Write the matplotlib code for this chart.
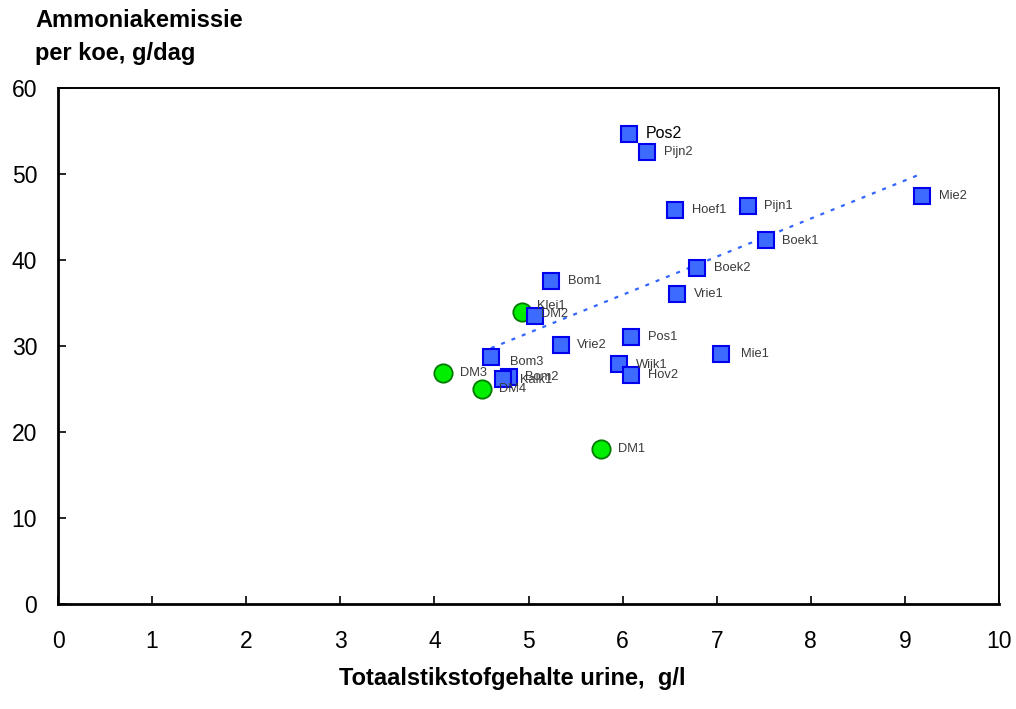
import numpy as np
import matplotlib
matplotlib.use('Agg')
import matplotlib.pyplot as plt

plt.rcParams['font.family'] = ['Liberation Sans', 'DejaVu Sans']

# bedrijven met vierkant symbool (stikstof g/l, emissie g/dag)
sq_names = ['Pos2', 'Pijn2', 'Hoef1', 'Pijn1', 'Mie2', 'Boek1', 'Boek2', 'Vrie1', 'Bom1',
            'DM2', 'Pos1', 'Vrie2', 'Mie1', 'Bom3', 'Wijk1', 'Hov2', 'Bom2', 'Kalk1']
sq_x = [6.07, 6.26, 6.56, 7.33, 9.18, 7.52, 6.79, 6.58, 5.24,
        5.07, 6.09, 5.34, 7.05, 4.60, 5.96, 6.09, 4.79, 4.73]
sq_y = [54.7, 52.6, 45.8, 46.3, 47.5, 42.3, 39.1, 36.1, 37.6,
        33.5, 31.1, 30.1, 29.1, 28.75, 27.9, 26.6, 26.4, 26.2]

# metingen met rond symbool
ci_names = ['Klei1', 'DM3', 'DM4', 'DM1']
ci_x = [4.93, 4.09, 4.51, 5.77]
ci_y = [33.9, 26.9, 25.0, 18.0]

# afwijkende labelposities (punten)
offsets = {'Klei1': (11, 4.5), 'DM2': (4, 1.5), 'Bom3': (14, -3.5), 'Kalk1': (12, -1),
           'Wijk1': (12, -0.7), 'Boek1': (12, -0.7), 'Mie1': (14, 0)}

fig = plt.figure(figsize=(10.16, 7.09), dpi=100)
ax = fig.add_axes([0.0571, 0.1485, 0.9262, 0.727])

# lineaire trend door de vierkanten
coef = np.polyfit(sq_x, sq_y, 1)
tx = np.array([min(sq_x), max(sq_x)])
ax.plot(tx, np.polyval(coef, tx), color='#3366ff', lw=1.6,
        linestyle=(0, (1.8, 3.2)), zorder=2)

ax.plot(ci_x, ci_y, 'o', ms=13.2, mfc='#00ee00', mec='#007a00', mew=1.3, zorder=3)
ax.plot(sq_x, sq_y, 's', ms=11, mfc='#3d6bff', mec='#0000ee', mew=1.5, zorder=4)

for names, xs, ys in [(sq_names, sq_x, sq_y), (ci_names, ci_x, ci_y)]:
    for n, x, y in zip(names, xs, ys):
        dx, dy = offsets.get(n, (12, 0))
        if n == 'Pos2':
            ax.annotate(n, (x, y), xytext=(dx, dy), textcoords='offset points',
                        va='center', ha='left', fontsize=11.5, color='black', zorder=5)
        else:
            ax.annotate(n, (x, y), xytext=(dx, dy), textcoords='offset points',
                        va='center', ha='left', fontsize=9.3, color='#3a3a3a', zorder=5)

ax.set_xlim(0, 10)
ax.set_ylim(0, 60)
ax.set_xticks(range(0, 11))
ax.set_yticks(range(0, 61, 10))
ax.tick_params(direction='in', length=6, width=1.2, labelsize=16.5)
ax.tick_params(axis='x', pad=19)
ax.tick_params(axis='y', pad=15)
for s in ['top', 'right']:
    ax.spines[s].set_linewidth(1.4)
for s in ['left', 'bottom']:
    ax.spines[s].set_linewidth(2.0)

fig.text(35 / 1016, 1 - 27 / 709, 'Ammoniakemissie', fontsize=17, fontweight='bold',
         va='baseline', ha='left')
fig.text(35 / 1016, 1 - 60 / 709, 'per koe, g/dag', fontsize=17, fontweight='bold',
         va='baseline', ha='left')
fig.text(512 / 1016, 1 - 685 / 709, 'Totaalstikstofgehalte urine,  g/l', fontsize=17,
         fontweight='bold', va='baseline', ha='center')

fig.savefig('out.png', dpi=100)
